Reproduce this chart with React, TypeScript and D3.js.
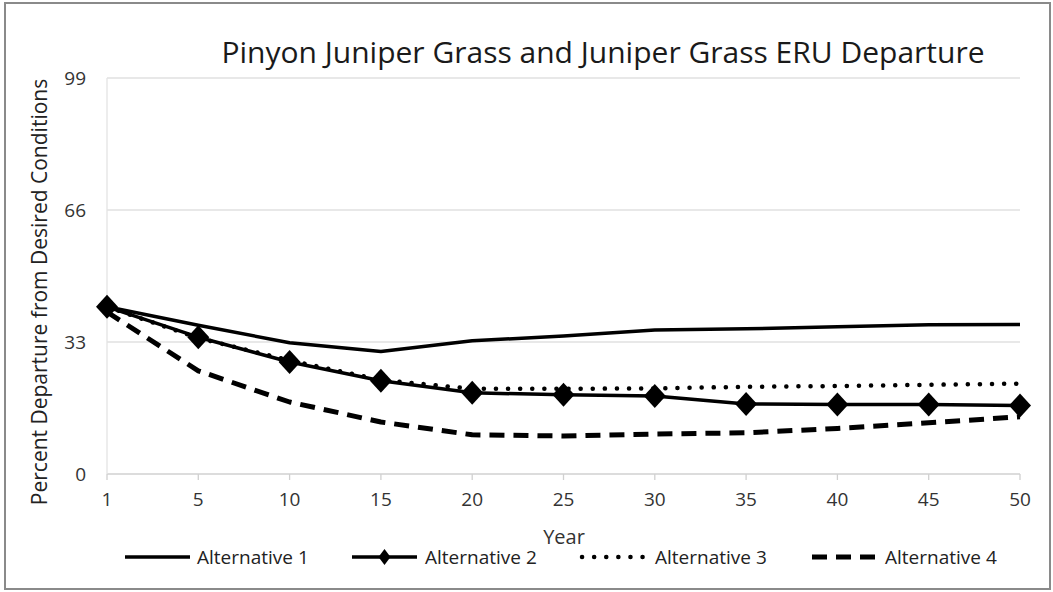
import React from "react";
import * as d3 from "d3";

const years = ["1", "5", "10", "15", "20", "25", "30", "35", "40", "45", "50"];
const alt1 = [41.8, 37.2, 32.8, 30.6, 33.3, 34.5, 36.0, 36.3, 36.8, 37.3, 37.4];
const alt2 = [41.8, 34.2, 28.0, 23.3, 20.3, 19.8, 19.5, 17.5, 17.4, 17.4, 17.1];
const alt3 = [41.8, 34.0, 28.4, 23.5, 21.3, 21.3, 21.4, 21.8, 22.0, 22.3, 22.6];
const alt4 = [40.5, 25.8, 18.0, 13.0, 9.8, 9.5, 10.0, 10.3, 11.4, 12.8, 14.3];
const yTicks = [0, 33, 66, 99];
const seriesNames = ["Alternative 1", "Alternative 2", "Alternative 3", "Alternative 4"];

const W = 1053;
const H = 592;
const FONT = "'Open Sans', 'Noto Sans', sans-serif";

export default function App() {
  const x = d3.scalePoint<string>().domain(years).range([107, 1020]);
  const y = d3.scaleLinear().domain([0, 99]).range([474, 78]);
  const line = d3
    .line<number>()
    .x((_, i) => x(years[i]) as number)
    .y((d) => y(d));

  const diamond = (cx: number, cy: number, hw = 11, hh = 12) =>
    `M${cx},${cy - hh}L${cx + hw},${cy}L${cx},${cy + hh}L${cx - hw},${cy}Z`;

  const styles = [
    { data: alt1, width: 3.5, dash: undefined as string | undefined, cap: "butt" },
    { data: alt2, width: 3.5, dash: undefined, cap: "butt" },
    { data: alt3, width: 4.5, dash: "0.1 12", cap: "round" },
    { data: alt4, width: 5, dash: "15 9", cap: "butt" },
  ];

  const legendItems = [
    { lx: 125, tx: 197 },
    { lx: 352, tx: 425 },
    { lx: 582, tx: 655 },
    { lx: 812, tx: 885 },
  ];
  const legendY = 557;

  return (
    <svg
      width={W}
      height={H}
      style={{ position: "absolute", left: 0, top: 0, background: "#fff" }}
      fontFamily={FONT}
    >
      <rect x={0} y={0} width={W} height={H} fill="#fff" />
      <rect x={5} y={3} width={1045} height={586} fill="none" stroke="#8a8a8a" strokeWidth={2} />

      <text x={603} y={63} textAnchor="middle" fontSize={30} fill="#1a1a1a">
        Pinyon Juniper Grass and Juniper Grass ERU Departure
      </text>

      {yTicks.map((t) => (
        <g key={t}>
          <line
            x1={107}
            x2={1020}
            y1={y(t)}
            y2={y(t)}
            stroke={t === 0 ? "#d0d0d0" : "#e0e0e0"}
            strokeWidth={1.3}
          />
          <text x={86} y={y(t) + 7} textAnchor="end" fontSize={19} fill="#333">
            {t}
          </text>
        </g>
      ))}
      <line x1={107} x2={107} y1={y(99)} y2={y(0)} stroke="#e4e4e4" strokeWidth={1.3} />

      {years.map((yr) => (
        <g key={yr}>
          <line
            x1={x(yr) as number}
            x2={x(yr) as number}
            y1={y(0)}
            y2={y(0) + 6}
            stroke="#d0d0d0"
            strokeWidth={1.3}
          />
          <text x={x(yr) as number} y={506} textAnchor="middle" fontSize={19} fill="#333">
            {yr}
          </text>
        </g>
      ))}

      <text x={564} y={544} textAnchor="middle" fontSize={20} fill="#333">
        Year
      </text>
      <text
        transform={`translate(47,${292}) rotate(-90)`}
        textAnchor="middle"
        fontSize={21}
        fill="#222"
      >
        Percent Departure from Desired Conditions
      </text>

      {styles.map((s, i) => (
        <path
          key={i}
          d={line(s.data) as string}
          fill="none"
          stroke="#000"
          strokeWidth={s.width}
          strokeDasharray={s.dash}
          strokeLinecap={s.cap as any}
          strokeLinejoin="round"
        />
      ))}
      {alt2.map((v, i) => (
        <path key={i} d={diamond(x(years[i]) as number, y(v))} fill="#000" />
      ))}

      {legendItems.map((it, i) => {
        const s = styles[i];
        return (
          <g key={i}>
            <line
              x1={it.lx}
              x2={it.lx + 65}
              y1={legendY}
              y2={legendY}
              stroke="#000"
              strokeWidth={s.width}
              strokeDasharray={s.dash}
              strokeLinecap={s.cap as any}
            />
            {i === 1 && <path d={diamond(it.lx + 32.5, legendY, 6, 8)} fill="#000" />}
            <text x={it.tx} y={legendY + 7} fontSize={19} fill="#222">
              {seriesNames[i]}
            </text>
          </g>
        );
      })}
    </svg>
  );
}
